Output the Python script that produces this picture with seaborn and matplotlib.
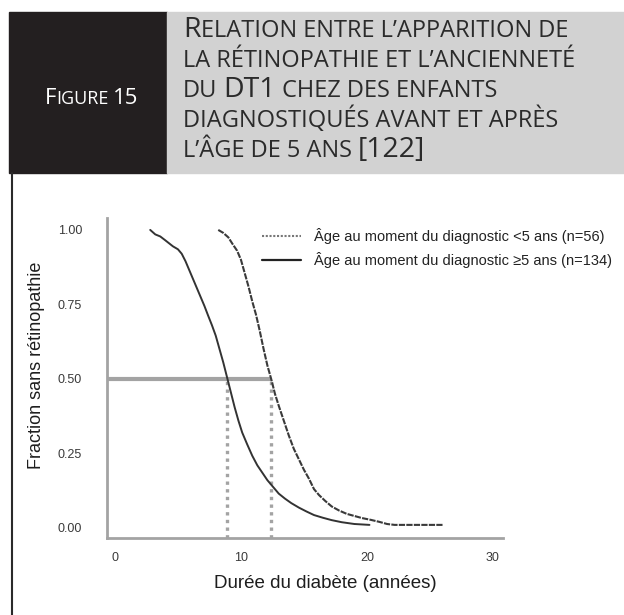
import matplotlib
matplotlib.use("Agg")
import matplotlib.pyplot as plt
import seaborn as sns
from matplotlib.lines import Line2D
from matplotlib.patches import Rectangle

# ---------------- data ----------------
# Kaplan-Meier curve, age at diagnosis < 5 years (n=56), dotted line
time_lt5 = [8.2, 8.6, 9.0, 9.3, 9.7, 10.0, 10.3, 10.6, 10.9, 11.2, 11.5, 11.8,
            12.1, 12.4, 12.7, 13.0, 13.4, 13.8, 14.2, 14.6, 15.0, 15.4, 15.8,
            16.2, 16.7, 17.2, 17.8, 18.4, 19.0, 19.6, 20.3, 21.0, 21.6, 22.2, 26.0]
surv_lt5 = [1.00, 0.99, 0.975, 0.955, 0.93, 0.90, 0.855, 0.81, 0.76, 0.715, 0.66, 0.60,
            0.545, 0.50, 0.45, 0.41, 0.36, 0.31, 0.265, 0.23, 0.195, 0.165, 0.13,
            0.11, 0.09, 0.072, 0.058, 0.047, 0.040, 0.033, 0.027, 0.020, 0.013, 0.010, 0.010]
# Kaplan-Meier curve, age at diagnosis >= 5 years (n=134), solid line
time_ge5 = [2.8, 3.2, 3.6, 4.0, 4.3, 4.6, 5.0, 5.3, 5.6, 5.9, 6.2, 6.5, 6.8, 7.1,
            7.4, 7.7, 8.0, 8.3, 8.6, 8.9, 9.2, 9.5, 9.8, 10.1, 10.5, 10.9, 11.3,
            11.7, 12.1, 12.5, 13.0, 13.5, 14.0, 14.6, 15.2, 15.8, 16.5, 17.2, 18.0,
            19.0, 20.2]
surv_ge5 = [1.00, 0.985, 0.978, 0.965, 0.955, 0.945, 0.935, 0.92, 0.895, 0.865, 0.835,
            0.805, 0.775, 0.745, 0.712, 0.680, 0.645, 0.600, 0.555, 0.505, 0.455, 0.405,
            0.360, 0.320, 0.280, 0.242, 0.210, 0.185, 0.160, 0.140, 0.115, 0.098, 0.083,
            0.068, 0.055, 0.043, 0.034, 0.026, 0.019, 0.013, 0.010]
median_times = [8.9, 12.4]
median_level = 0.5

x_ticks = [0, 10, 20, 30]
y_ticks = [0.00, 0.25, 0.50, 0.75, 1.00]
y_tick_labels = ["0.00", "0.25", "0.50", "0.75", "1.00"]

label_lt5 = "Âge au moment du diagnostic <5 ans (n=56)"
label_ge5 = "Âge au moment du diagnostic ≥5 ans (n=134)"
x_label = "Durée du diabète (années)"
y_label = "Fraction sans rétinopathie"

# header texts as (text, big-letter flag) runs to imitate small caps
figure_label_runs = [("F", True), ("IGURE", False), ("15", True)]
title_lines_runs = [
    [("R", True), ("ELATION ENTRE L’APPARITION DE", False)],
    [("LA RÉTINOPATHIE ET L’ANCIENNETÉ", False)],
    [("DU", False), ("DT1", True), ("CHEZ DES ENFANTS", False)],
    [("DIAGNOSTIQUÉS AVANT ET APRÈS", False)],
    [("L’ÂGE DE 5 ANS", False), ("[122]", True)],
]

# ---------------- figure ----------------
sns.set_theme(style="white")
plt.rcParams["font.family"] = ["Liberation Sans", "DejaVu Sans"]

W, H = 624, 615
fig = plt.figure(figsize=(W / 100, H / 100), dpi=100)
fig.patch.set_facecolor("white")


def fx(px):
    return px / W


def fy(py):
    return 1 - py / H


# header boxes
fig.add_artist(Rectangle((fx(9), fy(173)), fx(167) - fx(9), fy(12) - fy(173),
                         transform=fig.transFigure, color="#231f20", zorder=0))
fig.add_artist(Rectangle((fx(167), fy(173)), fx(624) - fx(167), fy(12) - fy(173),
                         transform=fig.transFigure, color="#d2d2d2", zorder=0))
# left frame line
fig.add_artist(Line2D([fx(11.5), fx(11.5)], [fy(173), fy(615)],
                      transform=fig.transFigure, color="#2a2a2a", lw=1.5))

renderer = fig.canvas.get_renderer()
HFAM = ["Open Sans", "DejaVu Sans"]


def text_width(txt, size):
    t = fig.text(0, 0, txt, fontsize=size, family=HFAM)
    w = t.get_window_extent(renderer=renderer).width
    t.remove()
    return w


def draw_runs(x_px, base_px, runs, color, small, big):
    x = x_px
    for i, (txt, is_big) in enumerate(runs):
        size = big if is_big else small
        if i > 0:
            prev_big = runs[i - 1][1]
            # a space between runs unless it's a capital followed by its word
            if not (prev_big and len(runs[i - 1][0]) == 1):
                x += text_width("I I", small) - text_width("II", small)
        t = fig.text(fx(x), fy(base_px), txt, fontsize=size, family=HFAM,
                     color=color, ha="left", va="baseline")
        x += t.get_window_extent(renderer=renderer).width


draw_runs(45, 104, figure_label_runs, "white", 13.0, 16.0)
for k, runs in enumerate(title_lines_runs):
    draw_runs(183, 37 + 30 * k, runs, "#2b2b2b", 17.0, 20.5)

# ---------------- axes ----------------
ax = fig.add_axes([fx(107), fy(538), fx(503) - fx(107), fy(218) - fy(538)])
ax.set_facecolor("white")
ax.set_xlim(-0.63, 30.8)
ax.set_ylim(-0.034, 1.04)

grey = "#a3a3a3"
# median reference lines
ax.plot([ax.get_xlim()[0], max(median_times)], [median_level, median_level],
        color=grey, lw=3, solid_capstyle="butt", zorder=1)
for m in median_times:
    ax.plot([m, m], [ax.get_ylim()[0], median_level], color=grey, lw=2.4,
            linestyle=(0, (1.0, 1.3)), dash_capstyle="butt", zorder=1)

sns.lineplot(x=time_lt5, y=surv_lt5, ax=ax, color="#3a3a3a", lw=1.5,
             linestyle=(0, (3.0, 0.6)), estimator=None, sort=False, zorder=3)
sns.lineplot(x=time_ge5, y=surv_ge5, ax=ax, color="#333333", lw=1.4,
             estimator=None, sort=False, zorder=3)

h_lt5 = Line2D([], [], color="#777777", lw=1.5, linestyle=(0, (1.0, 0.8)))
h_ge5 = Line2D([], [], color="#222222", lw=1.6)
ax.legend([h_lt5, h_ge5], [label_lt5, label_ge5], loc="upper left",
          bbox_to_anchor=(fx(262), fy(228)), bbox_transform=fig.transFigure,
          frameon=False, fontsize=10.5, handlelength=2.7, handletextpad=0.85,
          labelspacing=0.55, borderpad=0, borderaxespad=0, labelcolor="#222222")

for side in ["top", "right"]:
    ax.spines[side].set_visible(False)
for side in ["left", "bottom"]:
    ax.spines[side].set_color(grey)
    ax.spines[side].set_linewidth(2)

ax.set_xticks(x_ticks)
ax.set_xticklabels([str(v) for v in x_ticks])
ax.set_yticks(y_ticks)
ax.set_yticklabels(y_tick_labels)
ax.tick_params(axis="both", direction="out", length=6, width=1.2, color=grey,
               labelcolor="#3a3a3a", labelsize=9)
ax.tick_params(axis="y", pad=12)
ax.tick_params(axis="x", pad=4)

ax.set_xlabel(x_label, fontsize=13.5, color="#1e1e1e", va="center")
ax.xaxis.set_label_coords((325 - 107) / 396, (538 - 583) / 320)
ax.set_ylabel(y_label, fontsize=13, color="#1e1e1e", va="center")
ax.yaxis.set_label_coords((37 - 107) / 396, (538 - 365) / 320)

fig.savefig("out.png", dpi=100)
